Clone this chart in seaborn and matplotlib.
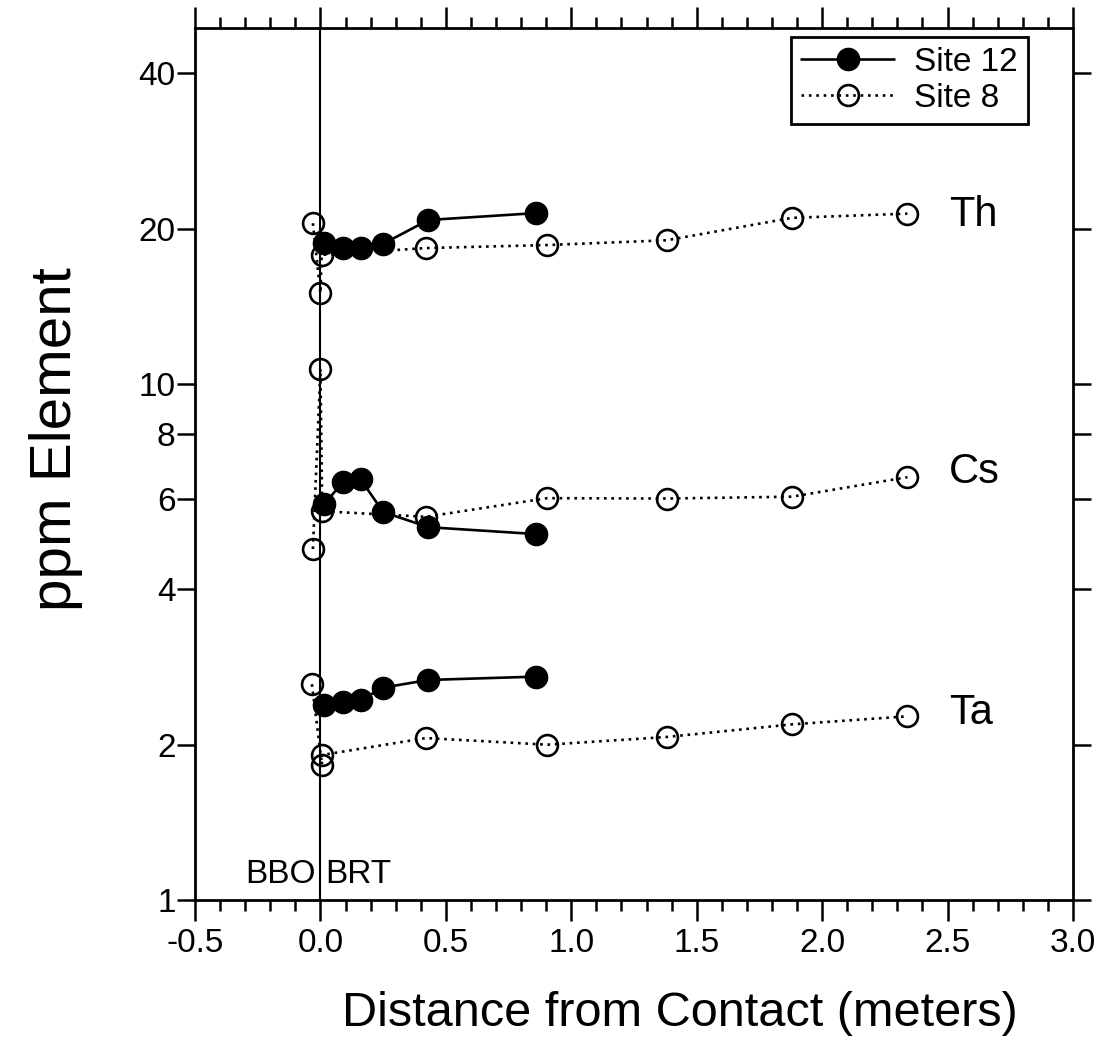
import numpy as np
import pandas as pd
import matplotlib
matplotlib.use("Agg")
import matplotlib.pyplot as plt
import seaborn as sns
from matplotlib.lines import Line2D
from matplotlib.ticker import FixedLocator, FixedFormatter, MultipleLocator, NullLocator, FormatStrFormatter

# ---- data ----
site12_x = [0.015, 0.09, 0.16, 0.25, 0.43, 0.86]
site12_th = [18.8, 18.35, 18.35, 18.7, 20.8, 21.45]
site12_cs = [5.85, 6.46, 6.54, 5.65, 5.28, 5.12]
site12_ta = [2.39, 2.42, 2.44, 2.58, 2.67, 2.71]

site8_th_x = [-0.03, 0.0, 0.005, 0.42, 0.905, 1.38, 1.88, 2.34]
site8_th = [20.5, 15.0, 17.8, 18.35, 18.6, 19.0, 21.0, 21.4]
site8_cs_x = [-0.03, 0.0, 0.007, 0.42, 0.905, 1.38, 1.88, 2.34]
site8_cs = [4.79, 10.7, 5.67, 5.53, 6.01, 6.0, 6.05, 6.6]
site8_ta_x = [-0.034, 0.006, 0.006, 0.42, 0.905, 1.38, 1.88, 2.34]
site8_ta = [2.62, 1.83, 1.91, 2.06, 2.00, 2.07, 2.19, 2.27]

element_names = ["Th", "Cs", "Ta"]
element_label_pos = [21.3, 6.75, 2.30]

y_ticks = [1, 2, 4, 6, 8, 10, 20, 40]
y_tick_labels = ["1", "2", "4", "6", "8", "10", "20", "40"]

# ---- style ----
sns.set_style("ticks")
plt.rcParams["font.family"] = ["Liberation Sans", "DejaVu Sans"]
plt.rcParams["axes.unicode_minus"] = False
for k in ["text.color", "axes.labelcolor", "xtick.color", "ytick.color", "axes.edgecolor"]:
    plt.rcParams[k] = "black"

fig = plt.figure(figsize=(11.03, 10.43), dpi=100)
ax = fig.add_axes([195 / 1103, (1043 - 900) / 1043, 878 / 1103, 872 / 1043])

dotted = (0, (1, 1.8))
open_kws = dict(color="black", marker="o", markersize=15, markerfacecolor="none",
                markeredgecolor="black", markeredgewidth=1.9, linestyle=dotted,
                linewidth=1.9, sort=False, estimator=None, legend=False, ax=ax)
filled_kws = dict(color="black", marker="o", markersize=16, markerfacecolor="black",
                  markeredgecolor="black", markeredgewidth=1.0, linestyle="-",
                  linewidth=1.9, sort=False, estimator=None, legend=False, ax=ax)

ax.axvline(0, color="black", lw=1.5, zorder=1)

for xs, ys in [(site8_th_x, site8_th), (site8_cs_x, site8_cs), (site8_ta_x, site8_ta)]:
    sns.lineplot(x=xs, y=ys, zorder=3, **open_kws)
for ys in [site12_th, site12_cs, site12_ta]:
    sns.lineplot(x=site12_x, y=ys, zorder=4, **filled_kws)

ax.set_yscale("log")
ax.set_ylim(1, 49)
ax.set_xlim(-0.5, 3.0)
ax.yaxis.set_major_locator(FixedLocator(y_ticks))
ax.yaxis.set_major_formatter(FixedFormatter(y_tick_labels))
ax.yaxis.set_minor_locator(NullLocator())
ax.xaxis.set_major_locator(MultipleLocator(0.5))
ax.xaxis.set_minor_locator(MultipleLocator(0.1))
ax.xaxis.set_major_formatter(FormatStrFormatter("%.1f"))

ax.tick_params(axis="x", which="major", direction="out", length=15, width=1.8, top=True,
               labelsize=24, pad=5)
ax.tick_params(axis="y", which="major", direction="out", length=13, width=1.8, right=True,
               labelsize=24, pad=1)
ax.tick_params(axis="x", which="minor", direction="out", length=8, width=1.8, top=True)
for s in ax.spines.values():
    s.set_linewidth(2.0)

ax.set_xlabel("Distance from Contact (meters)", fontsize=35)
ax.xaxis.set_label_coords(0.552, -0.104)
ax.set_ylabel("ppm Element", fontsize=42)
ax.yaxis.set_label_coords(-0.128, 0.529)

for name, yv in zip(element_names, element_label_pos):
    ax.text(2.505, yv, name, fontsize=30, va="center", ha="left")

ax.text(-0.02, 0.02, "BBO", transform=ax.get_xaxis_transform(), ha="right", va="baseline", fontsize=24)
ax.text(0.02, 0.02, "BRT", transform=ax.get_xaxis_transform(), ha="left", va="baseline", fontsize=24)

handles = [
    Line2D([], [], color="black", marker="o", markersize=16, markerfacecolor="black", linestyle="-", linewidth=1.9),
    Line2D([], [], color="black", marker="o", markersize=15, markerfacecolor="none", markeredgewidth=1.9,
           linestyle=dotted, linewidth=1.9),
]
leg = ax.legend(handles, ["Site 12", "Site 8"], loc="upper right", bbox_to_anchor=(0.9487, 0.9897),
                borderaxespad=0, fontsize=24, handlelength=2.8, handletextpad=0.6,
                labelspacing=0.15, borderpad=0.3, fancybox=False, framealpha=1, edgecolor="black")
leg.get_frame().set_linewidth(2.0)

fig.savefig("out.png", dpi=100)
